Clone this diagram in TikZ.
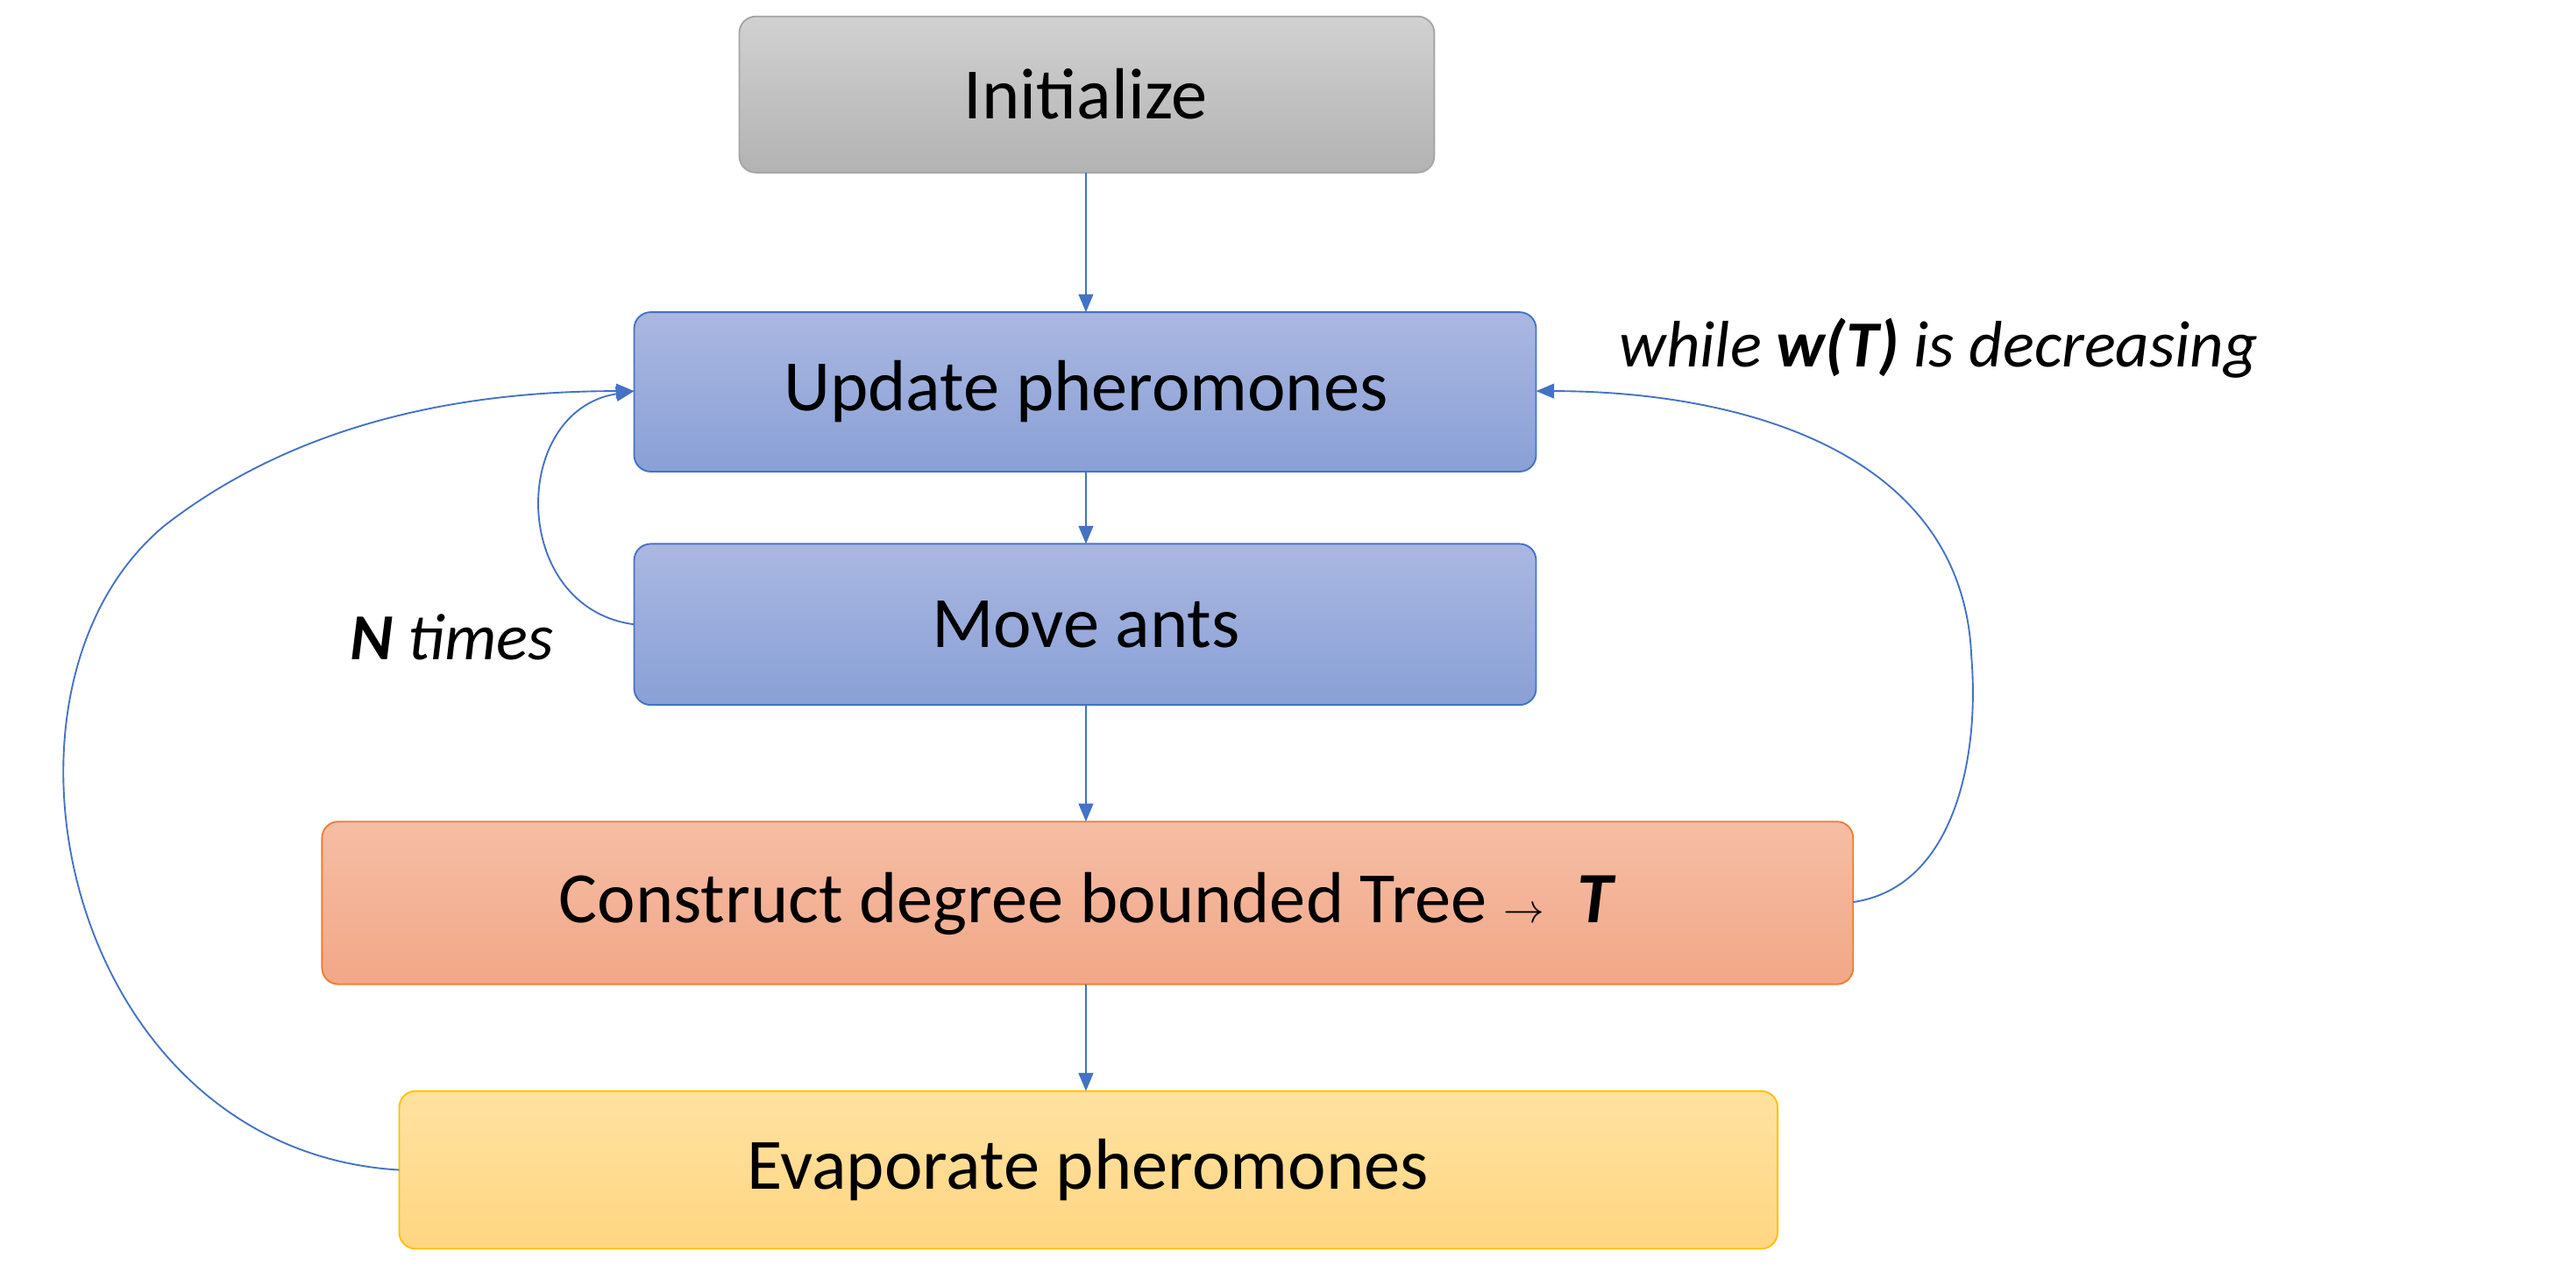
\documentclass[tikz,border=0pt]{standalone}
\usepackage{fontspec}
\setmainfont{Carlito}
\usetikzlibrary{arrows.meta}
\definecolor{ln}{RGB}{68,114,196}
\definecolor{bt}{RGB}{170,183,225}\definecolor{bb}{RGB}{137,160,214}
\definecolor{ot}{RGB}{245,190,165}\definecolor{ob}{RGB}{242,167,135}\definecolor{od}{RGB}{237,125,49}
\definecolor{yt}{RGB}{255,226,160}\definecolor{yb}{RGB}{255,214,130}\definecolor{yd}{RGB}{255,192,0}
\begin{document}
\begin{tikzpicture}[x=1pt,y=-1pt,
 txt/.style={font=\fontsize{44}{50}\selectfont},
 ar/.style={draw=ln,line width=1pt,-{Triangle[length=11pt,width=9pt]}}]
\useasboundingbox (0,0) rectangle (1568,774);
\shade[rounded corners=10pt,top color=black!18,bottom color=black!30] (450,10) rectangle (873,105);
\draw[rounded corners=10pt,black!35,line width=1pt] (450,10) rectangle (873,105);
\node[txt] (ini) at (661,57) {Initialize};
\coordinate (iniS) at (661,105);
\shade[rounded corners=10pt,top color=bt,bottom color=bb] (386,190) rectangle (935,287);
\draw[rounded corners=10pt,ln,line width=1pt] (386,190) rectangle (935,287);
\node[txt] (up) at (661,238) {Update pheromones};
\shade[rounded corners=10pt,top color=bt,bottom color=bb] (386,331) rectangle (935,429);
\draw[rounded corners=10pt,ln,line width=1pt] (386,331) rectangle (935,429);
\node[txt] (mv) at (661,380) {Move ants};
\shade[rounded corners=10pt,top color=ot,bottom color=ob] (196,500) rectangle (1128,599);
\draw[rounded corners=10pt,od,line width=1pt] (196,500) rectangle (1128,599);
\node[txt] (ct) at (662,550) {Construct degree bounded Tree $\rightarrow$\ \ \textbf{\textit{T}}};
\shade[rounded corners=10pt,top color=yt,bottom color=yb] (243,664) rectangle (1082,760);
\draw[rounded corners=10pt,yd,line width=1pt] (243,664) rectangle (1082,760);
\node[txt] (ev) at (662,712) {Evaporate pheromones};
\coordinate (upN) at (661,190); \coordinate (upS) at (661,287);
\coordinate (mvN) at (661,331); \coordinate (mvS) at (661,429);
\coordinate (ctN) at (661,500); \coordinate (ctS) at (661,599);
\coordinate (evN) at (661,664);
\coordinate (upW) at (386,238); \coordinate (upE) at (935,238);
\coordinate (mvW) at (386,380); \coordinate (ctE) at (1128,549); \coordinate (evW) at (243,712);
\draw[ar] (iniS) -- (upN);
\draw[ar] (upS) -- (mvN);
\draw[ar] (mvS) -- (ctN);
\draw[ar] (ctS) -- (evN);
\draw[ar] (mvW) .. controls (310,370) and (310,250) .. (upW);
\draw[ar] (evW) .. controls (40,700) and (-20,420) .. (100,320) .. controls (190,250) and (300,238) .. (upW);
\draw[ar] (ctE) .. controls (1190,540) and (1205,460) .. (1200,400) .. controls (1195,270) and (1050,238) .. (upE);
\node (wl) at (1180,212) [font=\fontsize{40}{48}\selectfont\itshape] {while \textbf{w(T)} is decreasing};
\node (nl) at (275,388) [font=\fontsize{40}{48}\selectfont\itshape] {\textbf{N} times};
\end{tikzpicture}
\end{document}
